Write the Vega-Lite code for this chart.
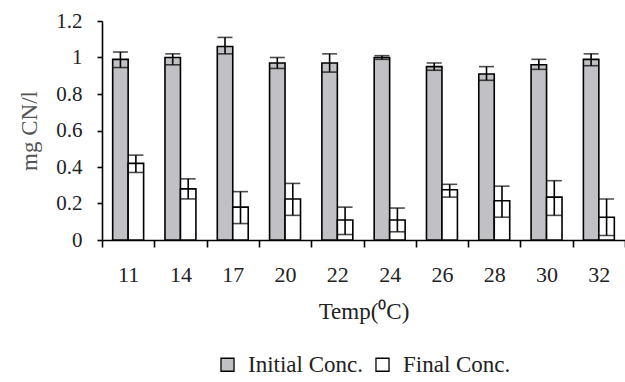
{
  "$schema": "https://vega.github.io/schema/vega-lite/v6.json",
  "width": 523,
  "height": 219,
  "autosize": "none",
  "padding": {"left": 102, "top": 21, "right": 0, "bottom": 142},
  "background": "white",
  "data": {
    "values": [
      {"temp": "11", "series": "Initial Conc.", "value": 0.99, "lo": 0.945, "hi": 1.03},
      {"temp": "11", "series": "Final Conc.", "value": 0.42, "lo": 0.37, "hi": 0.465},
      {"temp": "14", "series": "Initial Conc.", "value": 1.0, "lo": 0.96, "hi": 1.02},
      {"temp": "14", "series": "Final Conc.", "value": 0.28, "lo": 0.225, "hi": 0.335},
      {"temp": "17", "series": "Initial Conc.", "value": 1.06, "lo": 1.02, "hi": 1.11},
      {"temp": "17", "series": "Final Conc.", "value": 0.18, "lo": 0.09, "hi": 0.265},
      {"temp": "20", "series": "Initial Conc.", "value": 0.97, "lo": 0.94, "hi": 1.0},
      {"temp": "20", "series": "Final Conc.", "value": 0.225, "lo": 0.135, "hi": 0.31},
      {"temp": "22", "series": "Initial Conc.", "value": 0.97, "lo": 0.92, "hi": 1.02},
      {"temp": "22", "series": "Final Conc.", "value": 0.11, "lo": 0.03, "hi": 0.18},
      {"temp": "24", "series": "Initial Conc.", "value": 1.0, "lo": 0.99, "hi": 1.01},
      {"temp": "24", "series": "Final Conc.", "value": 0.11, "lo": 0.045, "hi": 0.175},
      {"temp": "26", "series": "Initial Conc.", "value": 0.95, "lo": 0.93, "hi": 0.97},
      {"temp": "26", "series": "Final Conc.", "value": 0.275, "lo": 0.235, "hi": 0.305},
      {"temp": "28", "series": "Initial Conc.", "value": 0.91, "lo": 0.875, "hi": 0.95},
      {"temp": "28", "series": "Final Conc.", "value": 0.215, "lo": 0.125, "hi": 0.295},
      {"temp": "30", "series": "Initial Conc.", "value": 0.96, "lo": 0.935, "hi": 0.99},
      {"temp": "30", "series": "Final Conc.", "value": 0.235, "lo": 0.135, "hi": 0.325},
      {"temp": "32", "series": "Initial Conc.", "value": 0.99, "lo": 0.955, "hi": 1.02},
      {"temp": "32", "series": "Final Conc.", "value": 0.125, "lo": 0.025, "hi": 0.225}
    ]
  },
  "encoding": {
    "x": {
      "field": "temp",
      "type": "nominal",
      "sort": null,
      "scale": {"paddingInner": 0, "paddingOuter": 0},
      "axis": {
        "title": "Temp(⁰C)",
        "labelAngle": 0,
        "tickBand": "extent",
        "tickSize": 7,
        "labelPadding": 17,
        "titlePadding": 15
      }
    },
    "xOffset": {
      "field": "series",
      "type": "nominal",
      "scale": {"domain": ["Initial Conc.", "Final Conc."], "paddingInner": 0, "paddingOuter": 0.69}
    }
  },
  "layer": [
    {
      "mark": {"type": "bar", "stroke": "black", "strokeWidth": 1.6},
      "encoding": {
        "y": {
          "field": "value",
          "type": "quantitative",
          "title": "mg CN/l",
          "scale": {"domain": [0, 1.2], "nice": false, "zero": true}
        },
        "color": {
          "field": "series",
          "type": "nominal",
          "scale": {"domain": ["Initial Conc.", "Final Conc."], "range": ["#c1c0c4", "#ffffff"]},
          "legend": {
            "title": null,
            "orient": "bottom",
            "direction": "horizontal",
            "symbolType": "square",
            "symbolSize": 170,
            "symbolStrokeColor": "black",
            "symbolStrokeWidth": 1.3,
            "symbolOpacity": 1,
            "labelFontSize": 23,
            "labelFont": "Liberation Serif",
            "labelColor": "#222222",
            "labelOffset": 9,
            "columnPadding": 8,
            "offset": 30
          }
        }
      }
    },
    {
      "mark": {"type": "rule", "color": "black", "strokeWidth": 1.6},
      "encoding": {
        "y": {"field": "lo", "type": "quantitative", "title": "mg CN/l"},
        "y2": {"field": "hi"}
      }
    },
    {
      "mark": {"type": "tick", "color": "black", "thickness": 1.6, "size": 15},
      "encoding": {"y": {"field": "lo", "type": "quantitative", "title": "mg CN/l"}}
    },
    {
      "mark": {"type": "tick", "color": "black", "thickness": 1.6, "size": 15},
      "encoding": {"y": {"field": "hi", "type": "quantitative", "title": "mg CN/l"}}
    }
  ],
  "config": {
    "font": "Liberation Serif",
    "view": {"stroke": null},
    "axis": {
      "labelFont": "Liberation Serif",
      "titleFont": "Liberation Serif",
      "labelFontSize": 22,
      "titleFontSize": 23,
      "titleFontWeight": "normal",
      "labelColor": "#222222",
      "titleColor": "#222222",
      "domainColor": "black",
      "domainWidth": 1.6,
      "tickColor": "black",
      "tickWidth": 1.6,
      "grid": false
    },
    "axisX": {
      "labelFontSize": 22,
      "titleFontSize": 23
    },
    "axisY": {
      "labelFontSize": 21,
      "titleFontSize": 23,
      "tickCount": 6,
      "format": ".1~f",
      "labelOverlap": false,
      "grid": true,
      "gridColor": "#444444",
      "gridWidth": 2,
      "gridOpacity": {"condition": {"test": "datum.value > 1.19", "value": 1}, "value": 0},
      "tickSize": 5,
      "labelPadding": 15,
      "titlePadding": 14,
      "titleColor": "#555555"
    },
    "legend": {"layout": {"bottom": {"anchor": "middle"}}}
  }
}
